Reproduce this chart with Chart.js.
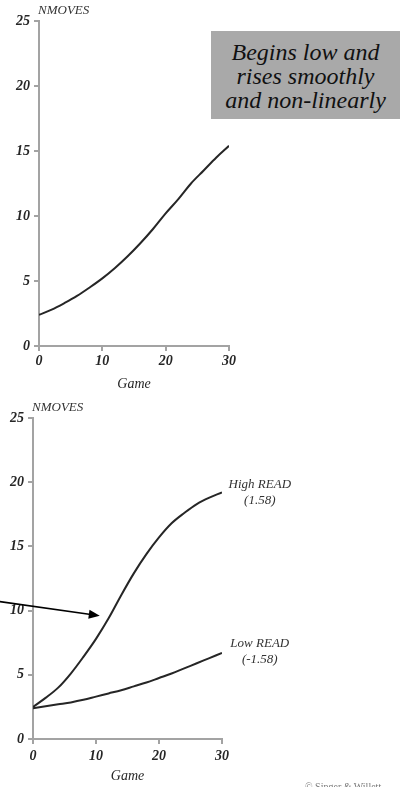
<!DOCTYPE html>
<html><head><meta charset="utf-8">
<script src="https://cdn.jsdelivr.net/npm/chart.js@4"></script>
<style>
html,body{margin:0;padding:0;background:#fff;width:402px;height:787px;overflow:hidden;position:relative}
canvas{position:absolute;left:0}
#c1{top:0}
#c2{top:395px}
#box{position:absolute;left:211px;top:31px;width:189px;height:88px;background:#a9a9a9;font:italic 24px/24px "Liberation Serif",serif;color:#111;text-align:center;padding-top:9px;box-sizing:border-box;white-space:nowrap}
#copy{position:absolute;left:305px;top:781px;font:10px "Liberation Serif",serif;color:#777;white-space:nowrap}
</style></head><body>
<canvas id="c1" width="402" height="395"></canvas>
<canvas id="c2" width="402" height="392"></canvas>
<div id="box">Begins low and<br>rises smoothly<br>and non-linearly</div>
<div id="copy">© Singer &amp; Willett</div>
<script>
// ---- data ----
const games = [0, 2, 4, 6, 8, 10, 12, 14, 16, 18, 20, 22, 24, 26, 28, 30];
const overallNmoves = [2.4, 2.8, 3.3, 3.85, 4.5, 5.2, 6.0, 6.9, 7.9, 9.0, 10.2, 11.3, 12.5, 13.5, 14.5, 15.4];
const highReadNmoves = [2.5, 3.2, 4.0, 5.1, 6.4, 7.8, 9.4, 11.2, 12.9, 14.4, 15.7, 16.8, 17.6, 18.3, 18.8, 19.2];
const lowReadNmoves = [2.4, 2.55, 2.7, 2.85, 3.05, 3.3, 3.55, 3.8, 4.1, 4.4, 4.75, 5.1, 5.5, 5.9, 6.3, 6.7];
const xTicks = [0, 10, 20, 30];
const yTicks = [0, 5, 10, 15, 20, 25];
const yTitle = 'NMOVES';
const xTitle = 'Game';
const highLabel = ['High READ', '(1.58)'];
const lowLabel = ['Low READ', '(-1.58)'];

const SERIF = '"Liberation Serif", "Times New Roman", serif';
const AXIS = '#a3a3a3';
const INK = '#262626';

function pts(ys) { return games.map((g, i) => ({ x: g, y: ys[i] })); }

function lineDs(ys) {
  return { data: pts(ys), borderColor: INK, borderWidth: 2, pointRadius: 0, tension: 0.35, cubicInterpolationMode: 'default', fill: false };
}

function makeChart(id, datasets, g, extraDraw) {
  return new Chart(document.getElementById(id), {
    type: 'line',
    data: { datasets },
    options: {
      responsive: false, animation: false, devicePixelRatio: 1,
      layout: { padding: { left: 0, top: g.top, right: g.right, bottom: 0 } },
      plugins: { legend: { display: false }, tooltip: { enabled: false } },
      scales: {
        x: {
          type: 'linear', min: 0, max: 30,
          afterBuildTicks: s => { s.ticks = xTicks.map(v => ({ value: v })); },
          afterFit: s => { s.height = g.xh; },
          ticks: { color: INK, padding: g.xpad, maxRotation: 0, font: { family: SERIF, size: 14, style: 'italic', weight: 'bold' } },
          grid: { drawOnChartArea: false, drawTicks: true, tickLength: 5, color: AXIS, lineWidth: 2 },
          border: { display: true, color: AXIS, width: 2 },
          title: { display: true, text: xTitle, color: INK, padding: { top: 0, bottom: 2 }, font: { family: SERIF, size: 14, style: 'italic' } }
        },
        y: {
          type: 'linear', min: 0, max: 25,
          afterBuildTicks: s => { s.ticks = yTicks.map(v => ({ value: v })); },
          afterFit: s => { s.width = g.yw; },
          ticks: { color: INK, padding: 4, font: { family: SERIF, size: 14, style: 'italic', weight: 'bold' } },
          grid: { drawOnChartArea: false, drawTicks: true, tickLength: 5, color: AXIS, lineWidth: 2 },
          border: { display: true, color: AXIS, width: 2 }
        }
      }
    },
    plugins: [{
      id: 'annot',
      afterDraw(chart) {
        const ctx = chart.ctx, x = chart.scales.x, y = chart.scales.y;
        ctx.save();
        ctx.fillStyle = '#333';
        ctx.font = 'italic 13px ' + SERIF;
        ctx.textAlign = 'left';
        ctx.textBaseline = 'middle';
        ctx.fillText(yTitle, x.left - 1, y.top - 10);
        if (extraDraw) extraDraw(ctx, x, y);
        ctx.restore();
      }
    }]
  });
}

makeChart('c1', [lineDs(overallNmoves)], { top: 21, right: 173, xh: 49, yw: 39, xpad: 2 });

makeChart('c2', [lineDs(highReadNmoves), lineDs(lowReadNmoves)], { top: 23, right: 180, xh: 48, yw: 33, xpad: 4 }, (ctx, x, y) => {
  ctx.fillStyle = '#333';
  ctx.font = 'italic 13px ' + SERIF;
  ctx.textAlign = 'center';
  const hx = x.getPixelForValue(36), hy = y.getPixelForValue(19.8);
  ctx.fillText(highLabel[0], hx, hy);
  ctx.fillText(highLabel[1], hx, hy + 16);
  const lx = x.getPixelForValue(36), ly = y.getPixelForValue(7.47);
  ctx.fillText(lowLabel[0], lx, ly);
  ctx.fillText(lowLabel[1], lx, ly + 16);
  // arrow pointing at the High READ curve
  const x0 = x.getPixelForValue(-5.3), y0 = y.getPixelForValue(10.7);
  const x1 = x.getPixelForValue(10.6), y1 = y.getPixelForValue(9.6);
  const ang = Math.atan2(y1 - y0, x1 - x0);
  ctx.strokeStyle = '#000';
  ctx.lineWidth = 1.6;
  ctx.beginPath();
  ctx.moveTo(x0, y0);
  ctx.lineTo(x1 - 9 * Math.cos(ang), y1 - 9 * Math.sin(ang));
  ctx.stroke();
  ctx.fillStyle = '#000';
  ctx.beginPath();
  ctx.moveTo(x1, y1);
  ctx.lineTo(x1 - 11 * Math.cos(ang) + 4.5 * Math.sin(ang), y1 - 11 * Math.sin(ang) - 4.5 * Math.cos(ang));
  ctx.lineTo(x1 - 11 * Math.cos(ang) - 4.5 * Math.sin(ang), y1 - 11 * Math.sin(ang) + 4.5 * Math.cos(ang));
  ctx.closePath();
  ctx.fill();
});
</script>
</body></html>
